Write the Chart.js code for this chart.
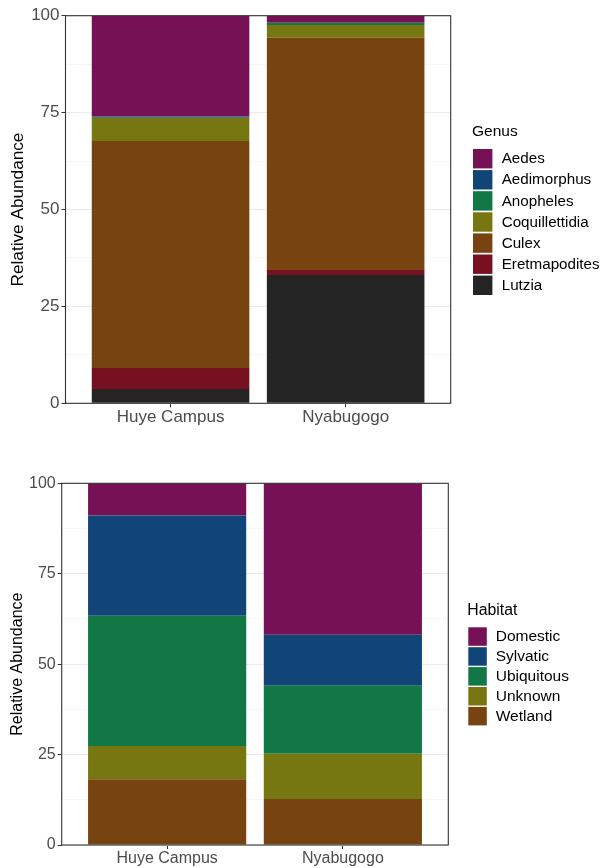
<!DOCTYPE html>
<html>
<head>
<meta charset="utf-8">
<script src="https://cdn.jsdelivr.net/npm/chart.js@4/dist/chart.umd.min.js"></script>
<style>
  html, body { margin: 0; padding: 0; background: #ffffff; }
  #wrap { position: relative; width: 612px; height: 868px; }
  .panel { position: absolute; left: 0; width: 612px; height: 434px; }
  canvas { display: block; }
</style>
</head>
<body>
<div id="wrap">
  <div class="panel" style="top:0"><canvas id="genusChart" width="612" height="434"></canvas></div>
  <div class="panel" style="top:434px"><canvas id="habitatChart" width="612" height="434"></canvas></div>
</div>
<script>
// Sampling sites
const sites = ['Huye Campus', 'Nyabugogo'];

// Relative abundance (%) of each genus per site
const genusNames = ['Aedes', 'Aedimorphus', 'Anopheles', 'Coquillettidia', 'Culex', 'Eretmapodites', 'Lutzia'];
const aedes          = [26.0, 1.8];
const aedimorphus    = [0.3, 0.0];
const anopheles      = [0.0, 0.6];
const coquillettidia = [6.0, 3.3];
const culex          = [58.6, 59.9];
const eretmapodites  = [5.4, 1.3];
const lutzia         = [3.7, 33.1];

// Relative abundance (%) of each larval habitat class per site
const habitatNames = ['Domestic', 'Sylvatic', 'Ubiquitous', 'Unknown', 'Wetland'];
const domestic   = [8.9, 41.9];
const sylvatic   = [27.7, 14.1];
const ubiquitous = [36.0, 18.8];
const unknown    = [9.2, 12.5];
const wetland    = [18.2, 12.7];

// Labelled y ticks (minor grid lines fall halfway between)
const yTickLabels = [0, 25, 50, 75, 100];

const FONT = '"Liberation Sans", Arial, Helvetica, sans-serif';
const palette = ['#771155', '#114477', '#117744', '#777711', '#774411', '#771122', '#242424'];

// First legend entry sits on top of the stack, so datasets are built bottom-up.
function buildDatasets(names, series) {
  const out = [];
  for (let i = names.length - 1; i >= 0; i--) {
    out.push({
      label: names[i],
      data: series[i].map((v, k) => ({ x: k + 1, y: v })),
      backgroundColor: palette[i],
      borderWidth: 0,
      barPercentage: 0.9,
      categoryPercentage: 1.0
    });
  }
  return out;
}

const framePlugin = {
  id: 'panelFrame',
  afterDatasetsDraw(chart) {
    const a = chart.chartArea;
    const ctx = chart.ctx;
    ctx.save();
    ctx.strokeStyle = '#333333';
    ctx.lineWidth = 1.1;
    ctx.strokeRect(a.left, a.top, a.right - a.left, a.bottom - a.top);
    ctx.restore();
  }
};

const keyPlugin = {
  id: 'keyLegend',
  afterDraw(chart, args, o) {
    const ctx = chart.ctx;
    const items = chart.data.datasets.slice().reverse();
    ctx.save();
    ctx.textAlign = 'left';
    ctx.textBaseline = 'middle';
    ctx.fillStyle = '#000000';
    ctx.font = o.titleSize + 'px ' + FONT;
    ctx.fillText(o.title, o.x, o.titleY);
    ctx.font = o.textSize + 'px ' + FONT;
    items.forEach((d, i) => {
      const y = o.firstY + i * o.step;
      ctx.fillStyle = d.backgroundColor;
      ctx.fillRect(o.x + 1, y, o.box, o.box);
      ctx.fillStyle = '#000000';
      ctx.fillText(d.label, o.textX, y + o.box / 2 + 0.5);
    });
    ctx.restore();
  }
};

function makeChart(id, names, series, P, key) {
  return new Chart(document.getElementById(id), {
    type: 'bar',
    data: { datasets: buildDatasets(names, series) },
    options: {
      responsive: false,
      animation: false,
      devicePixelRatio: 1,
      layout: { padding: { top: P.top, right: 612 - P.right, bottom: 0, left: 0 } },
      plugins: {
        legend: { display: false },
        tooltip: { enabled: false },
        keyLegend: key
      },
      scales: {
        x: {
          type: 'linear',
          min: 0.4,
          max: 2.6,
          stacked: true,
          offset: false,
          afterBuildTicks: s => { s.ticks = sites.map((_, i) => ({ value: i + 1 })); },
          afterFit: s => { s.height = P.xAxisHeight; },
          ticks: {
            callback: v => sites[v - 1] ?? '',
            color: '#4d4d4d',
            font: { family: FONT, size: P.tickSize },
            padding: 0,
            autoSkip: false,
            maxRotation: 0,
            minRotation: 0
          },
          grid: { offset: false, drawOnChartArea: false, tickLength: 4, tickColor: '#333333', tickWidth: 1 },
          border: { display: false }
        },
        y: {
          min: 0,
          max: 100,
          stacked: true,
          afterFit: s => { s.width = P.yAxisWidth; },
          ticks: {
            stepSize: 12.5,
            autoSkip: false,
            callback: v => yTickLabels.includes(v) ? String(v) : '',
            color: '#4d4d4d',
            font: { family: FONT, size: P.tickSize },
            padding: 2
          },
          grid: {
            color: c => (c.tick && yTickLabels.includes(c.tick.value)) ? '#ebebeb' : '#f2f2f2',
            lineWidth: c => (c.tick && yTickLabels.includes(c.tick.value)) ? 1 : 0.7,
            tickColor: c => (c.tick && yTickLabels.includes(c.tick.value)) ? '#333333' : 'rgba(0,0,0,0)',
            tickLength: 4,
            tickWidth: 1
          },
          border: { display: false },
          title: {
            display: true,
            text: 'Relative Abundance',
            color: '#000000',
            font: { family: FONT, size: P.titleSize },
            padding: { top: P.titlePad, bottom: 0 }
          }
        }
      }
    },
    plugins: [framePlugin, keyPlugin]
  });
}

makeChart('genusChart', genusNames,
  [aedes, aedimorphus, anopheles, coquillettidia, culex, eretmapodites, lutzia],
  { top: 15.7, right: 450.7, yAxisWidth: 65.5, xAxisHeight: 30.7, titlePad: 8, titleSize: 17.2, tickSize: 17 },
  { title: 'Genus', x: 472, titleY: 131.7, firstY: 149, step: 21.1, box: 19.4, textX: 501.7, textSize: 15.2, titleSize: 15.5 });

makeChart('habitatChart', habitatNames,
  [domestic, sylvatic, ubiquitous, unknown, wetland],
  { top: 49.3, right: 448.3, yAxisWidth: 61.7, xAxisHeight: 23, titlePad: 8, titleSize: 16, tickSize: 16 },
  { title: 'Habitat', x: 467.3, titleY: 176.7, firstY: 193.3, step: 19.9, box: 18.5, textX: 495.7, textSize: 15.5, titleSize: 15.8 });
</script>
</body>
</html>
